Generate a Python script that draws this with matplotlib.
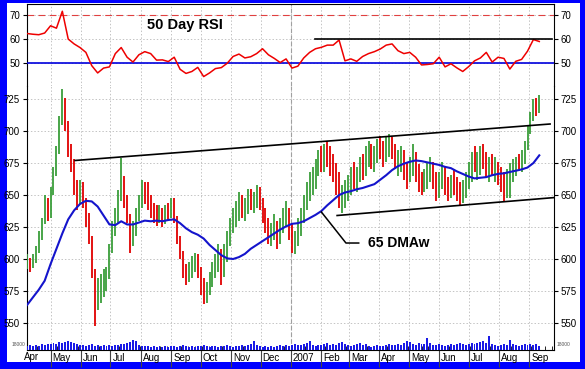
import matplotlib
matplotlib.use("Agg")
import numpy as np
import pandas as pd
import matplotlib.pyplot as plt
import matplotlib.dates as mdates
from matplotlib.patches import Rectangle
from matplotlib.transforms import ScaledTranslation

plt.rcParams["font.family"] = ["Liberation Sans", "DejaVu Sans"]

# bars every 3 days, smooth lines every 6 days
bar_dates = pd.date_range("2006-04-07", periods=175, freq="3D")
line_dates = pd.date_range("2006-04-07", periods=88, freq="6D")

lows = [592, 590, 593, 597, 605, 615, 627, 630, 632, 650,
        665, 682, 705, 700, 680, 668, 650, 638, 643, 640,
        625, 612, 585, 548, 560, 566, 570, 575, 584, 605,
        618, 628, 645, 640, 628, 605, 610, 618, 630, 640,
        643, 638, 632, 628, 626, 628, 625, 627, 630, 632,
        628, 612, 600, 585, 580, 582, 585, 590, 585, 572,
        565, 566, 572, 578, 585, 590, 580, 586, 598, 610,
        620, 625, 630, 632, 630, 635, 638, 636, 640, 638,
        628, 620, 612, 610, 615, 608, 612, 620, 625, 615,
        605, 604, 610, 618, 628, 638, 645, 650, 655, 665,
        668, 668, 672, 665, 660, 650, 640, 636, 640, 645,
        650, 655, 652, 660, 662, 665, 672, 670, 668, 675,
        678, 672, 676, 680, 678, 670, 665, 668, 662, 655,
        660, 665, 660, 652, 650, 652, 655, 660, 655, 645,
        648, 655, 650, 645, 648, 650, 645, 642, 644, 648,
        655, 660, 668, 662, 666, 670, 664, 660, 665, 660,
        658, 652, 645, 648, 648, 660, 665, 670, 668, 674,
        685, 698, 708, 712, 714]
highs = [604, 601, 604, 610, 622, 632, 650, 648, 656, 672,
         688, 712, 733, 726, 708, 690, 678, 662, 662, 660,
         648, 636, 618, 592, 585, 588, 592, 594, 612, 630,
         640, 654, 679, 665, 650, 635, 630, 640, 650, 662,
         660, 660, 650, 644, 642, 642, 640, 642, 644, 648,
         648, 634, 618, 606, 596, 598, 602, 605, 604, 594,
         585, 582, 590, 598, 604, 612, 608, 612, 622, 632,
         640, 645, 652, 650, 648, 655, 655, 652, 658, 656,
         648, 640, 632, 628, 635, 630, 632, 640, 645, 640,
         628, 622, 632, 640, 650, 660, 668, 672, 678, 685,
         688, 690, 692, 688, 682, 675, 668, 658, 662, 666,
         672, 676, 672, 680, 682, 688, 692, 690, 688, 694,
         696, 692, 696, 698, 695, 690, 685, 688, 685, 675,
         680, 690, 684, 674, 668, 670, 676, 680, 676, 668,
         668, 676, 672, 664, 666, 670, 664, 660, 662, 668,
         676, 684, 688, 684, 688, 690, 684, 680, 682, 680,
         676, 672, 668, 670, 675, 678, 680, 682, 685, 692,
         705, 715, 725, 726, 728]
closes = [598, 594, 600, 606, 619, 628, 644, 635, 652, 668,
          683, 708, 722, 706, 684, 672, 656, 645, 655, 646,
          632, 618, 592, 566, 575, 582, 586, 590, 608, 625,
          634, 648, 660, 645, 634, 612, 625, 635, 642, 655,
          652, 645, 638, 635, 632, 638, 630, 638, 636, 644,
          632, 616, 604, 590, 585, 592, 596, 600, 590, 578,
          570, 576, 585, 592, 598, 606, 590, 605, 617, 628,
          634, 640, 646, 638, 642, 650, 644, 648, 652, 645,
          634, 625, 618, 622, 628, 615, 626, 634, 638, 620,
          612, 615, 628, 635, 645, 655, 662, 665, 672, 680,
          675, 684, 680, 672, 668, 658, 645, 650, 655, 660,
          668, 662, 668, 675, 670, 682, 686, 678, 684, 688,
          685, 680, 690, 692, 684, 676, 680, 684, 668, 662,
          675, 680, 668, 660, 655, 664, 670, 672, 662, 652,
          660, 668, 656, 650, 660, 654, 650, 648, 656, 664,
          670, 678, 672, 676, 682, 680, 670, 676, 670, 674,
          664, 660, 650, 664, 668, 672, 676, 674, 680, 688,
          702, 712, 720, 716, 722]
volume = [4, 5, 4, 5, 4, 6, 5, 6,
          6, 7, 6, 8, 7, 8, 9, 8, 7, 6, 5,
          5, 4, 5, 6, 4, 5, 4, 5, 4, 5, 4, 5,
          5, 6, 6, 7, 8, 10, 9, 5, 4, 4,
          4, 3, 4, 3, 4, 3, 4, 3, 4, 4, 3, 4, 5, 4, 3, 4, 3, 4, 4,
          5, 4, 3, 4, 4, 3, 4, 4, 5, 4, 3, 4, 4, 5, 4, 5, 6, 9, 5, 4, 3,
          4, 3, 4, 3, 4, 5, 4, 5, 4, 5, 6, 5, 5, 6, 7, 9, 5, 4, 5, 5,
          6, 7, 5, 6, 5, 7, 8, 6, 5, 4, 5, 6, 7, 5, 6, 4, 3, 4, 5, 4,
          4, 5, 6, 5, 5, 6, 5, 7, 9, 8, 6, 5, 7, 6, 6, 12, 7, 5, 5, 6,
          5, 4, 5, 6, 5, 6, 7, 6, 5, 6, 7, 6, 7, 8, 9, 7, 14, 6, 5, 4,
          5, 6, 5, 10, 6, 5, 4, 5, 6, 5, 6, 5, 6, 4]

rsi = [62.3, 62.0, 61.8, 62.5, 65.5, 64.5, 71.5, 60.0, 58.0, 56.5,
       54.5, 49.0, 46.0, 48.0, 48.5, 54.0, 56.5, 52.5, 50.5, 53.5,
       54.8, 54.0, 51.3, 51.4, 50.7, 52.5, 47.5, 45.8, 46.6, 48.3,
       44.5, 46.0, 47.8, 48.2, 50.0, 52.8, 53.8, 52.2, 52.7, 54.0,
       56.0, 53.5, 52.0, 50.3, 51.8, 48.0, 48.8, 52.2, 54.5, 56.0,
       56.6, 57.5, 57.5, 59.6, 51.0, 51.8, 50.8, 52.8, 54.0, 54.8,
       55.9, 57.5, 58.0, 55.2, 54.0, 54.5, 52.5, 49.3, 49.5, 49.8,
       52.5, 48.5, 49.8, 48.1, 46.6, 48.6, 51.0, 52.2, 54.5, 50.5,
       52.5, 52.0, 47.6, 50.8, 51.6, 55.0, 59.8, 59.0]
ma65 = [564, 570, 576, 583, 596, 608, 620, 631, 638, 643,
        645.5, 645, 641, 634, 627, 626.5, 629.5, 627, 627, 628.5,
        630, 629.5, 630, 629.5, 630.5, 631, 628, 624, 621, 619,
        616, 611, 607, 603, 600.5, 600, 601.5, 604, 608, 611,
        614, 617, 620, 623, 625.5, 627.5, 628, 629.5, 632, 634.5,
        637.5, 642, 646, 650, 652, 653, 654.5, 655.5, 657, 658.5,
        662, 665.5, 669.5, 672.5, 674.5, 676, 677, 676.5, 675.5, 674.5,
        673.5, 672, 671, 668.5, 666.5, 664.5, 663, 663.5, 664, 665.5,
        666.5, 667, 668, 669, 670, 671.5, 675, 681]

upper_dates = pd.to_datetime(["2006-05-26", "2007-09-22"])
upper_vals = [677, 705.5]
lower_dates = pd.to_datetime(["2007-02-17", "2007-09-26"])
lower_vals = [634, 648]
rsi_res_dates = pd.to_datetime(["2007-01-25", "2007-09-24"])
rsi_res_vals = [60, 60]

price_ticks = [550, 575, 600, 625, 650, 675, 700, 725]
rsi_ticks = [50, 60, 70]

W, H = 585, 369
fig = plt.figure(figsize=(W / 100, H / 100), dpi=100, facecolor="#0000ff")
fig.patches.append(Rectangle((7 / W, 7 / H), 573 / W, 359 / H, transform=fig.transFigure,
                             facecolor="white", edgecolor="none", zorder=-10))

L, AW = 27 / W, 527 / W
ax_r = fig.add_axes([L, 1 - 86 / H, AW, 82 / H])
ax_p = fig.add_axes([L, 1 - 350 / H, AW, 264 / H], sharex=ax_r)
ax_v = fig.add_axes([L, 1 - 350 / H, AW, 16 / H], sharex=ax_p)

x0, x1 = pd.Timestamp("2006-04-07"), pd.Timestamp("2007-09-26")
grid_kw = dict(color="#c4c4c4", linestyle=(0, (1.5, 2)), linewidth=0.7)
y2007 = pd.Timestamp("2007-01-01")

# --- RSI panel
ax_r.plot(line_dates, rsi, color="#ee0000", lw=1.1, zorder=4)
ax_r.axhline(70, color="#e04040", ls=(0, (6, 4)), lw=0.8)
ax_r.axhline(50, color="#0000dd", lw=1.2, zorder=3)
ax_r.plot(rsi_res_dates, rsi_res_vals, color="black", lw=1.2, zorder=5)
ax_r.axvline(y2007, color="#a0a0a0", ls=(0, (4, 2)), lw=0.8)
ax_r.set_ylim(40.6, 74.5)
ax_r.set_yticks(rsi_ticks)
ax_r.grid(True, **grid_kw)
ax_r.text(0.3, 0.745, "50 Day RSI", transform=ax_r.transAxes, ha="center", va="center",
          fontsize=10.5, fontweight="bold")
ax_r.spines["bottom"].set_visible(False)
ax_r.tick_params(axis="x", which="both", bottom=False, labelbottom=False)

# --- price panel
cols = ["#3a9e3a" if i == 0 or closes[i] >= closes[i - 1] else "#e00000" for i in range(len(closes))]
ax_p.vlines(bar_dates, lows, highs, colors=cols, lw=1.3, zorder=3)
ax_p.plot(line_dates, ma65, color="#1414cc", lw=1.5, zorder=4)
ax_p.plot(upper_dates, upper_vals, color="black", lw=1.2, zorder=5)
ax_p.plot(lower_dates, lower_vals, color="black", lw=1.2, zorder=5)
ax_p.axvline(y2007, color="#a0a0a0", ls=(0, (4, 2)), lw=0.8)
ax_p.plot(pd.to_datetime(["2007-02-01", "2007-02-26", "2007-03-11"]), [636.7, 612.5, 612.5],
          color="black", lw=1.1, zorder=5)
ax_p.text(pd.Timestamp("2007-03-20"), 612.5, "65 DMAw", ha="left", va="center",
          fontsize=10, fontweight="bold")
ax_p.set_ylim(528.9, 735.2)
ax_p.set_yticks(price_ticks)
ax_p.grid(True, **grid_kw)
ax_p.spines["top"].set_visible(False)

# --- volume strip
ax_v.bar(bar_dates, volume, width=2, color="#1a1ae6", zorder=3)
ax_v.set_ylim(0, 16)
ax_v.axis("off")

for ax in (ax_r, ax_p):
    ax.set_facecolor("none")
    ax.tick_params(axis="y", left=True, right=True, labelleft=True, labelright=True,
                   labelsize=7, length=3, pad=2, direction="out")
    for s in ax.spines.values():
        s.set_linewidth(0.8)

ax_p.set_xlim(x0, x1)
ax_p.xaxis.set_major_locator(mdates.MonthLocator())
ax_p.xaxis.set_minor_locator(mdates.WeekdayLocator(byweekday=mdates.MO))
ax_p.xaxis.set_major_formatter(plt.FuncFormatter(
    lambda v, p: str(mdates.num2date(v).year) if mdates.num2date(v).month == 1
    else mdates.num2date(v).strftime("%b")))
ax_p.tick_params(axis="x", which="major", length=12, pad=-10, labelsize=7, color="#444444")
ax_p.tick_params(axis="x", which="minor", length=3, direction="in")
offset = ScaledTranslation(2 / 100, 0, fig.dpi_scale_trans)
for lbl in ax_p.xaxis.get_majorticklabels():
    lbl.set_horizontalalignment("left")
    lbl.set_transform(lbl.get_transform() + offset)

fig.text(24 / W, 1 - 357 / H, "Apr", fontsize=7, ha="left", va="center")
fig.text(25 / W, 1 - 345 / H, "18000", fontsize=3.5, ha="right", va="center", color="#555555")
fig.text(557 / W, 1 - 345 / H, "18000", fontsize=3.5, ha="left", va="center", color="#555555")

fig.savefig("out.png", dpi=100, facecolor=fig.get_facecolor())
